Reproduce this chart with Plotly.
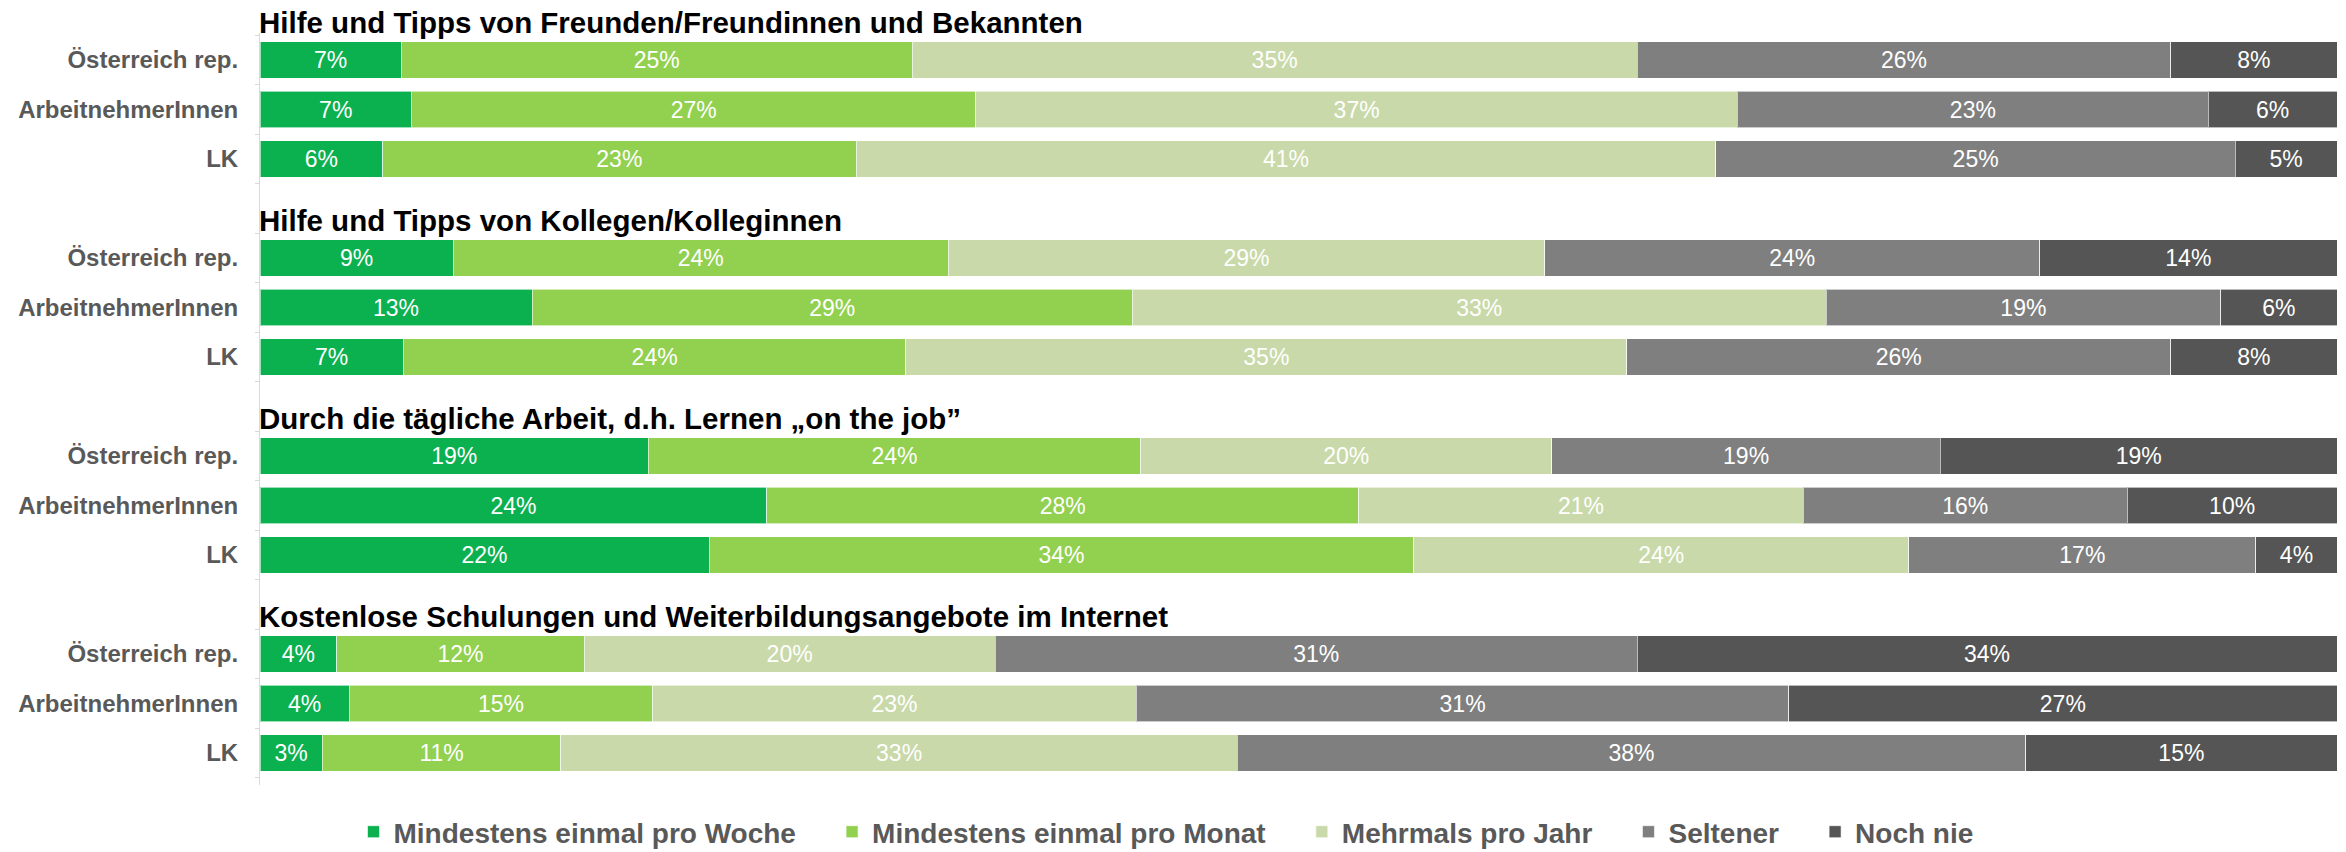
import plotly.graph_objects as go

groups = [
    "Hilfe und Tipps von Freunden/Freundinnen und Bekannten",
    "Hilfe und Tipps von Kollegen/Kolleginnen",
    "Durch die tägliche Arbeit, d.h. Lernen „on the job”",
    "Kostenlose Schulungen und Weiterbildungsangebote im Internet",
]
rows = ["Österreich rep.", "ArbeitnehmerInnen", "LK"]
series = ["Mindestens einmal pro Woche", "Mindestens einmal pro Monat",
          "Mehrmals pro Jahr", "Seltener", "Noch nie"]
colors = ["#0BB04F", "#92D050", "#C9D9A9", "#7F7F7F", "#545554"]

# measured bar shares (%) per row, order: group 1 rows, group 2 rows, ...
woche = [6.8, 7.3, 5.9, 9.3, 13.1, 6.9, 18.7, 24.4, 21.6, 3.7, 4.3, 3.0]
monat = [24.6, 27.2, 22.8, 23.8, 28.9, 24.2, 23.7, 28.5, 33.9, 11.9, 14.6, 11.5]
jahr = [34.9, 36.7, 41.4, 28.7, 33.4, 34.7, 19.8, 21.4, 23.8, 19.8, 23.3, 32.6]
seltener = [25.7, 22.7, 25.0, 23.8, 19.0, 26.2, 18.7, 15.6, 16.7, 30.9, 31.4, 38.0]
nie = [8.0, 6.2, 4.9, 14.3, 5.6, 8.0, 19.1, 10.1, 3.9, 33.7, 26.4, 15.0]

# printed labels
lab_woche = [7, 7, 6, 9, 13, 7, 19, 24, 22, 4, 4, 3]
lab_monat = [25, 27, 23, 24, 29, 24, 24, 28, 34, 12, 15, 11]
lab_jahr = [35, 37, 41, 29, 33, 35, 20, 21, 24, 20, 23, 33]
lab_seltener = [26, 23, 25, 24, 19, 26, 19, 16, 17, 31, 31, 38]
lab_nie = [8, 6, 5, 14, 6, 8, 19, 10, 4, 34, 27, 15]

values = [woche, monat, jahr, seltener, nie]
labels = [lab_woche, lab_monat, lab_jahr, lab_seltener, lab_nie]

ypos = [g * 4 + i + 1 for g in range(len(groups)) for i in range(len(rows))]
ytext = [r for g in range(len(groups)) for r in rows]

FONT = "Liberation Sans, Arial, Helvetica, sans-serif"
YR = [15.646, 0.4545]
W, H = 2346, 852

fig = go.Figure()
for k, (name, col, vals, labs) in enumerate(zip(series, colors, values, labels)):
    pad = "\u00a0" * 4 if k < len(series) - 1 else ""
    fig.add_trace(go.Bar(
        name=f"<b>{name}</b>{pad}", orientation="h", y=ypos, x=vals,
        marker=dict(color=col, line=dict(color="rgba(255,255,255,0.6)", width=1)),
        width=0.73,
        text=[f"{v}%" for v in labs], textposition="inside",
        insidetextanchor="middle", textangle=0,
        textfont=dict(color="white", size=23, family=FONT),
        hoverinfo="skip",
    ))

for g, title in enumerate(groups):
    u = g * 4 + 1 - 0.77
    fig.add_annotation(
        x=0, xref="paper", y=(YR[0] - u) / (YR[0] - YR[1]), yref="paper",
        text=f"<b>{title}</b>", showarrow=False,
        xanchor="left", yanchor="middle", xshift=-3, yshift=-1,
        font=dict(size=29.5, color="black", family=FONT),
    )

fig.update_layout(
    barmode="stack", barnorm="percent",
    width=W, height=H,
    margin=dict(l=260, r=9, t=33, b=67, autoexpand=False),
    paper_bgcolor="white", plot_bgcolor="white",
    font=dict(family=FONT),
    uniformtext=dict(minsize=10, mode="show"),
    xaxis=dict(range=[0, 100], visible=False, fixedrange=True, automargin=False),
    yaxis=dict(
        range=YR, tickvals=ypos, ticktext=[f"<b>{t}</b>" for t in ytext],
        tickfont=dict(size=24, color="#595959", family=FONT),
        showgrid=False, zeroline=False, ticks="", ticklen=0,
        ticklabelstandoff=16, automargin=False, fixedrange=True,
        showline=True, linecolor="#D9D9D9", linewidth=1,
        minor=dict(tick0=0.5, dtick=1, ticks="outside", ticklen=4, tickcolor="#D9D9D9", showgrid=False),
    ),
    legend=dict(
        orientation="h", xref="container", x=0.5 - 7 / W, xanchor="center",
        yref="container", y=20 / H, yanchor="middle",
        font=dict(size=28, color="#595959", family=FONT),
        traceorder="normal", itemwidth=30,
    ),
    showlegend=True,
)

fig.write_html("out.html", config={"displayModeBar": False},
               post_script="document.body.style.margin='0';")
